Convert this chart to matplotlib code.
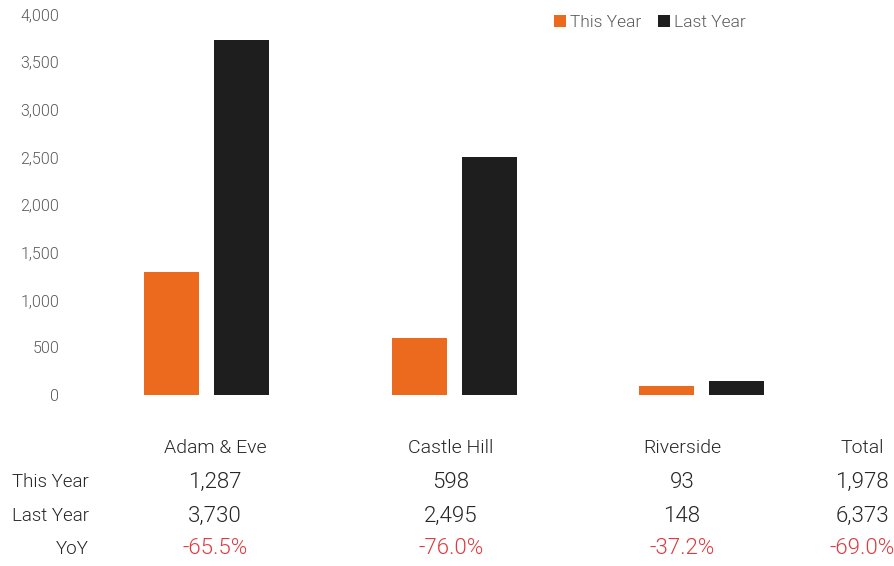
import matplotlib
matplotlib.use("Agg")
import matplotlib.pyplot as plt

categories = ["Adam & Eve", "Castle Hill", "Riverside"]
this_year = [1287, 598, 93]
last_year = [3730, 2495, 148]
table_cols = ["Adam & Eve", "Castle Hill", "Riverside", "Total"]
row_labels = ["This Year", "Last Year", "YoY"]
this_year_txt = ["1,287", "598", "93", "1,978"]
last_year_txt = ["3,730", "2,495", "148", "6,373"]
yoy_txt = ["-65.5%", "-76.0%", "-37.2%", "-69.0%"]
yticks = [0, 500, 1000, 1500, 2000, 2500, 3000, 3500, 4000]

ORANGE = "#EB6A1E"
BLACK = "#1E1E1E"
RED = "#E0393E"
GREY = "#595959"
TXT = "#262626"
WT = 300

plt.rcParams['font.family'] = ['Roboto', 'DejaVu Sans']

W, H = 894, 566
fig = plt.figure(figsize=(W/100, H/100), dpi=100)
ax = fig.add_axes([82.75/W, (H-395)/H, (825.75-82.75)/W, (395-14)/H])
x = list(range(len(categories)))
bw = 55/247.5
off = 35/247.5
ax.bar([i - off for i in x], this_year, width=bw, color=ORANGE, label="This Year")
ax.bar([i + off for i in x], last_year, width=bw, color=BLACK, label="Last Year")
ax.set_xlim(-0.5, 2.5)
ax.set_ylim(0, 4000)
ax.set_yticks(yticks)
ax.set_yticklabels([f"{v:,}" for v in yticks], fontsize=11.5, color=GREY, fontweight=WT)
ax.tick_params(axis='y', length=0, pad=17)
ax.set_xticks([])
for s in ax.spines.values():
    s.set_visible(False)

leg = ax.legend(loc='upper left', bbox_to_anchor=(554/W, 1-15/H), bbox_transform=fig.transFigure,
                ncol=2, frameon=False, fontsize=12.5, handlelength=0.7, handleheight=0.7,
                handletextpad=0.2, columnspacing=1.0, borderaxespad=0, borderpad=0)
for t in leg.get_texts():
    t.set_color(GREY)
    t.set_fontweight(WT)

col_x = [215, 451, 682, 862]
row_y = [448, 482, 516, 549]
for cx, name in zip(col_x, table_cols):
    fig.text(cx/W, 1-row_y[0]/H, name, ha='center', va='center', fontsize=14, color=TXT, fontweight=WT)
for r, (lab, vals) in enumerate(zip(row_labels, [this_year_txt, last_year_txt, yoy_txt])):
    yy = 1-row_y[r+1]/H
    fig.text(89/W, yy, lab, ha='right', va='center', fontsize=13.5, color=TXT, fontweight=WT)
    for cx, v in zip(col_x, vals):
        fig.text(cx/W, yy, v, ha='center', va='center', fontsize=16,
                 color=RED if r == 2 else TXT, fontweight=WT)

fig.savefig("out.png", dpi=100)
